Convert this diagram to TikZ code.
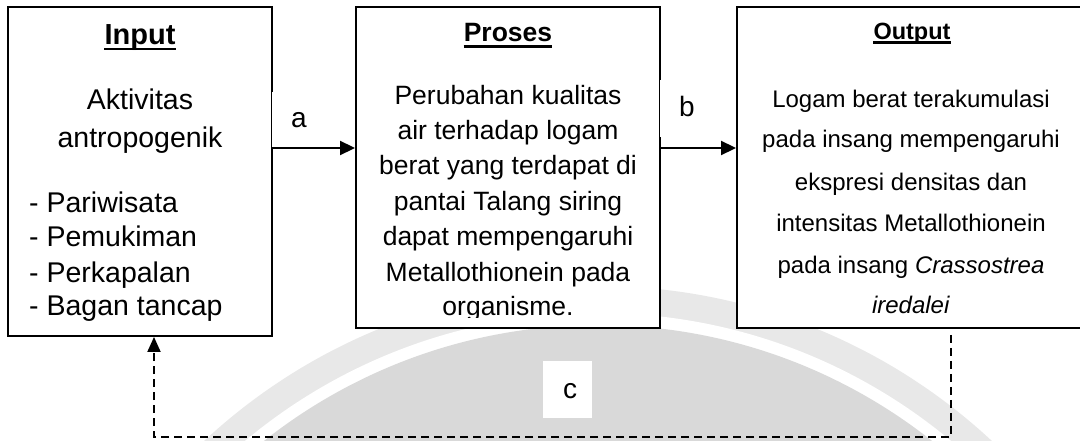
\documentclass[tikz,border=0pt]{standalone}
\usepackage{fontspec}
\setmainfont{Liberation Sans}
\usetikzlibrary{arrows.meta}
\definecolor{wmin}{gray}{0.85}
\definecolor{wmout}{gray}{0.91}
\begin{document}
\begin{tikzpicture}[x=1pt,y=-1pt,
  box/.style={draw=black, line width=1.9pt, fill=white, inner sep=0pt, rectangle},
  lblbox/.style={fill=white, inner sep=0pt, rectangle},
  conn/.style={line width=1.9pt, -{Triangle[length=15pt,width=14pt]}},
  dashconn/.style={line width=1.9pt, dash pattern=on 8pt off 5pt, -{Triangle[length=15pt,width=13pt]}},
  txt/.style={anchor=base, inner sep=0pt},
  txtl/.style={anchor=base west, inner sep=0pt},
  uline/.style={line width=2.6pt},
  fin/.style={font=\fontsize{28.5}{34}\selectfont},
  fint/.style={font=\fontsize{29}{34}\selectfont\bfseries},
  fpr/.style={font=\fontsize{26.5}{32}\selectfont},
  fprt/.style={font=\fontsize{26.5}{32}\selectfont\bfseries},
  fou/.style={font=\fontsize{24}{29}\selectfont},
  fout/.style={font=\fontsize{23.5}{28}\selectfont\bfseries},
  flb/.style={font=\fontsize{28}{34}\selectfont}
]
\useasboundingbox (0,0) rectangle (1080,441);
\clip (0,0) rectangle (1080,441);
\fill[white] (0,0) rectangle (1080,441);
% watermark swoosh
\fill[wmout] (598,864) circle[radius=578pt];
\fill[white] (598,864) circle[radius=551pt];
\fill[wmin] (598,864) circle[radius=539pt];

% boxes
\node[box, minimum width=264pt, minimum height=329pt] (input) at (140,171.5) {};
\node[box, minimum width=304pt, minimum height=321pt] (proses) at (508,167.5) {};
\node[box, minimum width=358pt, minimum height=321pt] (output) at (916,167.5) {};

% connectors
\draw[conn] (input.east |- 0,148) -- (proses.west |- 0,148);
\draw[conn] (proses.east |- 0,148) -- (output.west |- 0,148);
\draw[dashconn, shorten <=6pt] (output.south -| 951,0) -- (951,437) -- (154,437) -- (input.south -| 154,0);

% label boxes
\node[lblbox, minimum width=43pt, minimum height=55pt] (la) at (293.5,119.5) {};
\node[lblbox, minimum width=52pt, minimum height=57pt] (lb) at (686,108.5) {};
\node[lblbox, minimum width=49pt, minimum height=57pt] (lc) at (567.5,389.5) {};
\node[txt, flb] (ta) at (299,128) {a};
\node[txt, flb] (tb) at (687,117) {b};
\node[txt, flb] (tc) at (570,398) {c};

% Input text
\node[txt, fint] (ti) at (140,45) {Input};
\draw[uline] ([yshift=-4pt]ti.base west) -- ([yshift=-4pt]ti.base east);
\node[txt, fin] (i1) at (140,110) {Aktivitas};
\node[txt, fin] (i2) at (140,148) {antropogenik};
\node[txtl, fin] (i3) at (29,213) {- Pariwisata};
\node[txtl, fin] (i4) at (29,247) {- Pemukiman};
\node[txtl, fin] (i5) at (29,282) {- Perkapalan};
\node[txtl, fin] (i6) at (29,315) {- Bagan tancap};

% Proses text
\node[txt, fprt] (tp) at (508,42) {Proses};
\draw[uline] ([yshift=-4.3pt]tp.base west) -- ([yshift=-4.3pt]tp.base east);
\begin{scope}
\clip (357,8) rectangle (659,317.5);
\node[txt, fpr] (p1) at (508,105) {Perubahan kualitas};
\node[txt, fpr] (p2) at (508,140) {air terhadap logam};
\node[txt, fpr] (p3) at (508,175) {berat yang terdapat di};
\node[txt, fpr] (p4) at (508,211) {pantai Talang siring};
\node[txt, fpr] (p5) at (508,246) {dapat mempengaruhi};
\node[txt, fpr] (p6) at (508,281) {Metallothionein pada};
\node[txt, fpr] (p7) at (508,315) {organisme.};
\end{scope}

% Output text
\node[txt, fout] (to) at (912,39.5) {Output};
\draw[uline, line width=2.4pt] ([yshift=-3pt]to.base west) -- ([yshift=-3pt]to.base east);
\node[txt, fou] (o1) at (911,108) {Logam berat terakumulasi};
\node[txt, fou] (o2) at (911,148) {pada insang mempengaruhi};
\node[txt, fou] (o3) at (911,191) {ekspresi densitas dan};
\node[txt, fou] (o4) at (911,232) {intensitas Metallothionein};
\node[txt, fou] (o5) at (911,273) {pada insang \textit{Crassostrea}};
\node[txt, fou] (o6) at (911,313) {\textit{iredalei}};
\end{tikzpicture}
\end{document}
